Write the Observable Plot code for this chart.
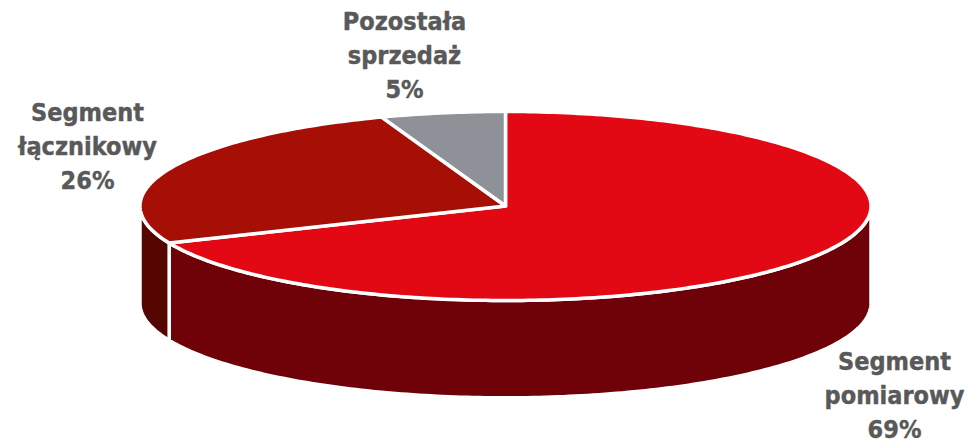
<!DOCTYPE html>
<html>
<head>
<meta charset="utf-8">
<script src="https://cdn.jsdelivr.net/npm/d3@7"></script>
<script src="https://cdn.jsdelivr.net/npm/@observablehq/plot@0.6"></script>
<style>html,body{margin:0;padding:0;background:#fff}svg{display:block}</style>
</head>
<body>
<div id="chart"></div>
<script>
// Data
const categories = ["Segment pomiarowy", "Segment łącznikowy", "Pozostała sprzedaż"];
const percentLabels = ["69%", "26%", "5%"];
const drawnShares = [68.6, 25.9, 5.5]; // measured from the slice edges

// Styles
const topColors = ["#E30914", "#A60F06", "#8E9298"];
const wallColors = ["#6E0208", "#560600", "#6E6E70"];
const labelLines = [["Segment", "pomiarowy"], ["Segment", "łącznikowy"], ["Pozostała", "sprzedaż"]];
const labelPlace = [[894, 393], [87, 144], [404, 53]];

// Geometry in unit coordinates of the disc; the scales map them to the page
const depth = 1.03;
const total = d3.sum(drawnShares);
const cum = d3.cumsum(drawnShares);
const startAngle = (i) => (i === 0 ? 0 : cum[i - 1] / total) * 2 * Math.PI;
const endAngle = (i) => (cum[i] / total) * 2 * Math.PI;
const arc = (a0, a1, dy = 0) => {
  const n = Math.max(2, Math.ceil((a1 - a0) * 60));
  return d3.range(n + 1).map((k) => {
    const a = a0 + (a1 - a0) * k / n;
    return {x: Math.sin(a), y: Math.cos(a) - dy};
  });
};

const tops = [];
const walls = [];
categories.forEach((name, i) => {
  const a0 = startAngle(i), a1 = endAngle(i);
  const pts = [{x: 0, y: 0}, ...arc(a0, a1), {x: 0, y: 0}];
  pts.forEach((p) => tops.push({...p, face: name}));
  const w0 = Math.max(a0, Math.PI / 2), w1 = Math.min(a1, 3 * Math.PI / 2);
  if (w1 > w0) {
    const top = arc(w0, w1), bottom = arc(w0, w1, depth).reverse();
    [...top, ...bottom, top[0]].forEach((p) => walls.push({...p, face: name + " wall"}));
  }
});

const plot = Plot.plot({
  width: 967,
  height: 443,
  margin: 0,
  x: {domain: [-1, 1], range: [139.5, 870.5], axis: null},
  y: {domain: [1, -1], range: [111, 300], axis: null},
  color: {
    domain: [...categories, ...categories.map((c) => c + " wall")],
    range: [...topColors, ...wallColors]
  },
  marks: [
    Plot.line(walls, {x: "x", y: "y", z: "face", fill: "face", stroke: "white", strokeWidth: 3.5, curve: "linear"}),
    Plot.line(tops, {x: "x", y: "y", z: "face", fill: "face", stroke: "white", strokeWidth: 3.5, curve: "linear"}),
    Plot.text(categories.map((c, i) => ({text: [...labelLines[i], percentLabels[i]].join("\n"), px: labelPlace[i][0], py: labelPlace[i][1]})), {
      x: (d) => (d.px - 505) / 365.5,
      y: (d) => (205.5 - d.py) / 94.5,
      text: "text",
      fill: "#595959",
      stroke: "#595959",
      strokeWidth: 0.4,
      fontSize: 25,
      fontWeight: "bold",
      fontFamily: "DejaVu Sans Condensed",
      lineHeight: 1.36,
      textAnchor: "middle",
      lineAnchor: "middle"
    })
  ]
});
document.getElementById("chart").append(plot);
</script>
</body>
</html>
